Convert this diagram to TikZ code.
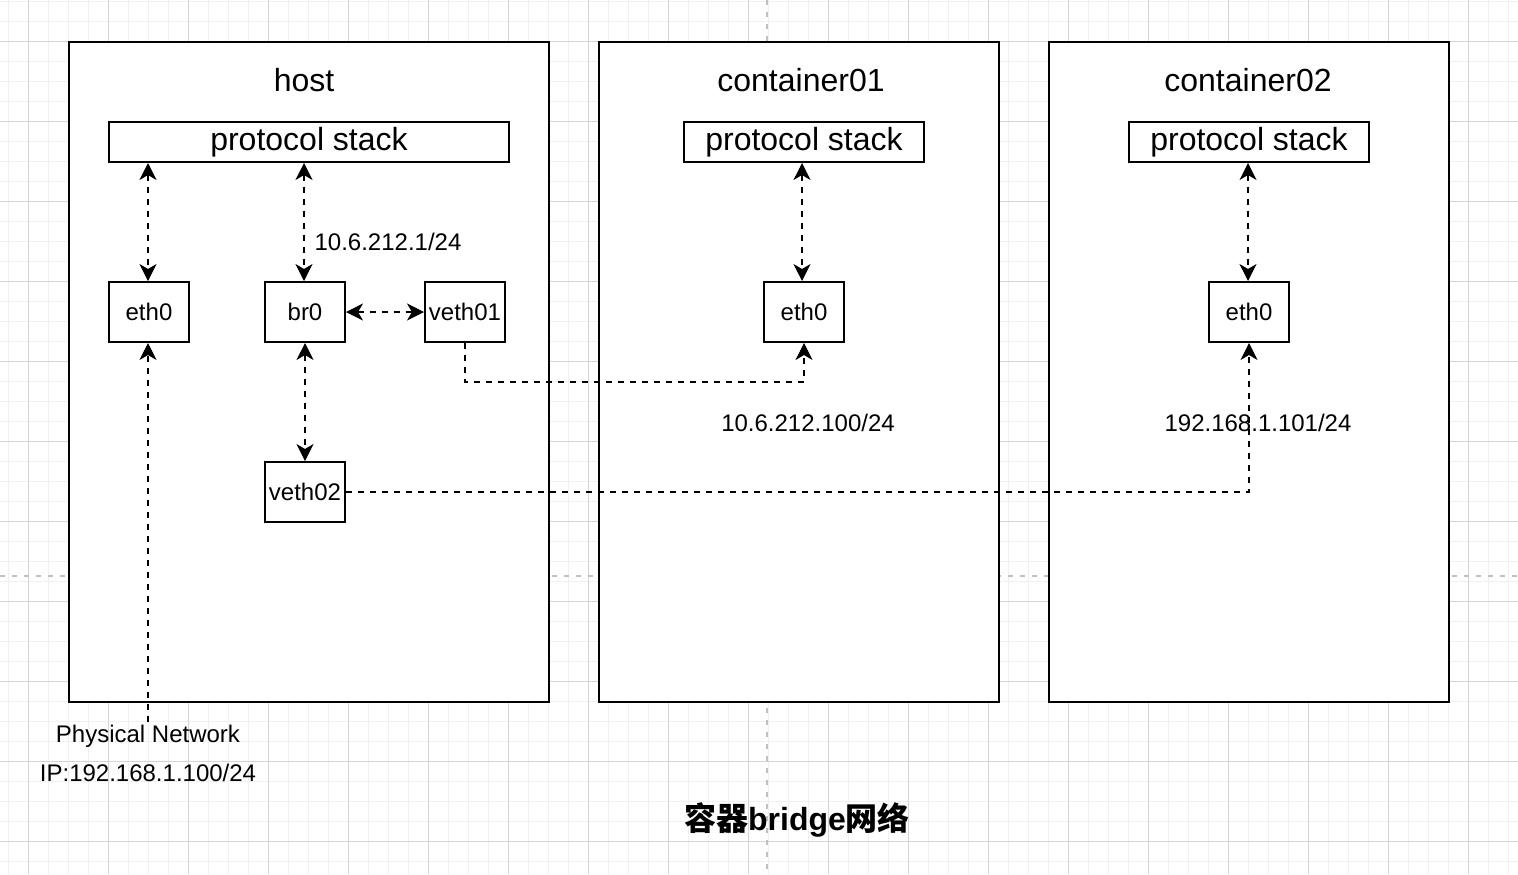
\documentclass[tikz,border=0pt]{standalone}
\usepackage{fontspec}
\setmainfont{Liberation Sans}
\newfontfamily\cjk{Noto Sans CJK SC}
\usetikzlibrary{arrows.meta,calc}
\definecolor{gridminor}{HTML}{F0F0F0}
\definecolor{gridmajor}{HTML}{D4D4D4}
\definecolor{pagebreak}{HTML}{C0C0C0}
\tikzset{
  bigbox/.style={draw=black, fill=white, line width=1pt, rectangle, inner sep=0pt, minimum height=330pt},
  stackbox/.style={draw=black, fill=white, line width=1pt, rectangle, inner sep=0pt, minimum height=20pt, font=\fontsize{16}{19}\selectfont},
  ifbox/.style={draw=black, fill=white, line width=1pt, rectangle, inner sep=0pt, minimum width=40pt, minimum height=30pt, font=\fontsize{12}{14}\selectfont},
  boxtitle/.style={inner sep=0pt, font=\fontsize{16}{19}\selectfont},
  lbl/.style={inner sep=1pt, font=\fontsize{12}{14}\selectfont},
  link/.style={line width=1pt, dash pattern=on 3pt off 3pt},
  tiphead/.tip={Stealth[length=8.5pt,width=8.5pt,inset=2.5pt,line width=0.5pt]},
  tip/.style={-tiphead},
  tips/.style={tiphead-tiphead},
}
\begin{document}
\begin{tikzpicture}[x=0.5pt,y=-0.5pt]
\useasboundingbox (0,0) rectangle (1518,874);
\fill[white] (0,0) rectangle (1518,874);
% grid
\foreach \gx in {8,28,...,1518} \draw[gridminor, line width=0.5pt] (\gx,0) -- (\gx,874);
\foreach \gy in {1,21,...,874} \draw[gridminor, line width=0.5pt] (0,\gy) -- (1518,\gy);
\foreach \gx in {28,108,...,1518} \draw[gridmajor, line width=0.5pt] (\gx,0) -- (\gx,874);
\foreach \gy in {41,121,...,874} \draw[gridmajor, line width=0.5pt] (0,\gy) -- (1518,\gy);
% page breaks
\draw[pagebreak, line width=1pt, dash pattern=on 2.5pt off 3.5pt] (767,0) -- (767,874);
\draw[pagebreak, line width=1pt, dash pattern=on 2.5pt off 3.5pt] (0,576) -- (1518,576);

% containers
\node[bigbox, minimum width=240pt] (host) at (309,372) {};
\node[bigbox, minimum width=200pt] (c1) at (799,372) {};
\node[bigbox, minimum width=200pt] (c2) at (1249,372) {};

\node[boxtitle] (hostt) at (304,80) {host};
\node[boxtitle] (c1t) at (801,80) {container01};
\node[boxtitle] (c2t) at (1248,80) {container02};

\node[stackbox, minimum width=200pt] (hstack) at (309,142) {\raisebox{-1pt}{protocol stack}};
\node[stackbox, minimum width=120pt] (c1stack) at (804,142) {\raisebox{-1pt}{protocol stack}};
\node[stackbox, minimum width=120pt] (c2stack) at (1249,142) {\raisebox{-1pt}{protocol stack}};

\node[ifbox] (heth) at (149,312) {eth0};
\node[ifbox] (br) at (305,312) {br0};
\node[ifbox] (v01) at (465,312) {veth01};
\node[ifbox] (v02) at (305,492) {veth02};
\node[ifbox] (c1eth) at (804,312) {eth0};
\node[ifbox] (c2eth) at (1249,312) {eth0};

% labels
\node[lbl] (brip) at (388,242) {10.6.212.1/24};
\node[lbl] (c1ip) at (808,423) {10.6.212.100/24};
\node[lbl] (c2ip) at (1258,423) {192.168.1.101/24};
\node[lbl] (phys) at (148,736) {Physical Network};
\node[lbl] (physip) at (148,773) {IP:192.168.1.100/24};
\node[inner sep=0pt, font=\fontsize{16}{19}\selectfont\bfseries] (title) at (797,820) {{\cjk 容器}bridge{\cjk 网络}};

% connectors
\draw[link, tips] ($(hstack.south -| heth.north)+(-1,0)$) -- ($(heth.north)+(-1,0)$);
\draw[link, tips] ($(hstack.south -| br.north)+(-1,0)$) -- ($(br.north)+(-1,0)$);
\draw[link, tips] (br.east) -- (v01.west);
\draw[link, tips] (br.south) -- (v02.north);
\draw[link, tips] ($(c1stack.south -| c1eth.north)+(-2,0)$) -- ($(c1eth.north)+(-2,0)$);
\draw[link, tips] ($(c2stack.south -| c2eth.north)+(-1,0)$) -- ($(c2eth.north)+(-1,0)$);
\draw[link, tip] (phys.north) -- (phys.north |- heth.south);
\draw[link, tip] (v01.south) -- ++(0,39) coordinate (v01turn) -| (c1eth.south);
\draw[link, tip] (v02.east) -| (c2eth.south);
\end{tikzpicture}
\end{document}
